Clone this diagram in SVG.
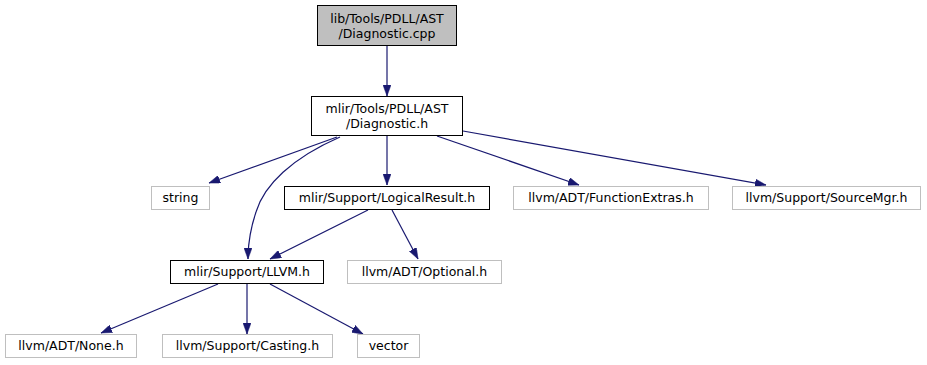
<svg xmlns="http://www.w3.org/2000/svg" width="927" height="365" viewBox="0 0 927 365">
  <style>
    text { font-family: "DejaVu Sans", "Liberation Sans", sans-serif; font-size: 12.5px; fill: #000; text-anchor: middle; }
    .box { fill: #fff; stroke: #000; stroke-width: 1; }
    .ext { fill: #fff; stroke: #bfbfbf; stroke-width: 1; }
    .root { fill: #bfbfbf; stroke: #000; stroke-width: 1; }
    .edge { fill: none; stroke: #191970; stroke-width: 1.2; marker-end: url(#arrow); }
  </style>
  <defs>
    <marker id="arrow" viewBox="0 0 11 8" refX="11" refY="4" markerWidth="11" markerHeight="8" markerUnits="userSpaceOnUse" orient="auto">
      <path d="M0,0 L11,4 L0,8 z" fill="#191970" stroke="#191970" stroke-width="0.5"/>
    </marker>
  </defs>

  <rect width="927" height="365" fill="#fff"/>

  <g id="edges">
    <path class="edge" d="M387,46 L387,96"/>
    <path class="edge" d="M337,137 L209,183"/>
    <path class="edge" d="M340,137 C292,158 264,185 256,212 C250,230 248,245 248,259"/>
    <path class="edge" d="M387,136 L387,185"/>
    <path class="edge" d="M437,136 L579,185"/>
    <path class="edge" d="M463,131 L766,185"/>
    <path class="edge" d="M368,210 L270,259"/>
    <path class="edge" d="M392,210 L418,259"/>
    <path class="edge" d="M218,284 L101,333"/>
    <path class="edge" d="M247,284 L247,334"/>
    <path class="edge" d="M270,284 L363,334"/>
  </g>

  <g id="node-diagnostic-cpp">
    <rect class="root" x="317.5" y="5.5" width="139" height="40"/>
    <text x="387" y="22.5">lib/Tools/PDLL/AST</text>
    <text x="387" y="37.5">/Diagnostic.cpp</text>
  </g>
  <g id="node-diagnostic-h">
    <rect class="box" x="311.5" y="96.5" width="151" height="39"/>
    <text x="387" y="113">mlir/Tools/PDLL/AST</text>
    <text x="387" y="128">/Diagnostic.h</text>
  </g>
  <g id="node-string">
    <rect class="ext" x="151.5" y="186.5" width="58" height="23"/>
    <text x="180.5" y="202">string</text>
  </g>
  <g id="node-logicalresult">
    <rect class="box" x="284.5" y="186.5" width="205" height="23"/>
    <text x="387" y="202">mlir/Support/LogicalResult.h</text>
  </g>
  <g id="node-functionextras">
    <rect class="ext" x="513.5" y="186.5" width="195" height="23"/>
    <text x="611" y="202">llvm/ADT/FunctionExtras.h</text>
  </g>
  <g id="node-sourcemgr">
    <rect class="ext" x="732.5" y="186.5" width="188" height="23"/>
    <text x="826.5" y="202">llvm/Support/SourceMgr.h</text>
  </g>
  <g id="node-llvm-h">
    <rect class="box" x="170.5" y="260.5" width="153" height="23"/>
    <text x="247" y="276">mlir/Support/LLVM.h</text>
  </g>
  <g id="node-optional">
    <rect class="ext" x="347.5" y="260.5" width="154" height="23"/>
    <text x="424.5" y="276">llvm/ADT/Optional.h</text>
  </g>
  <g id="node-none">
    <rect class="ext" x="5.5" y="334.5" width="131" height="23"/>
    <text x="71" y="350">llvm/ADT/None.h</text>
  </g>
  <g id="node-casting">
    <rect class="ext" x="162.5" y="334.5" width="170" height="23"/>
    <text x="247.5" y="350">llvm/Support/Casting.h</text>
  </g>
  <g id="node-vector">
    <rect class="ext" x="357.5" y="334.5" width="62" height="23"/>
    <text x="388.5" y="350">vector</text>
  </g>
</svg>
